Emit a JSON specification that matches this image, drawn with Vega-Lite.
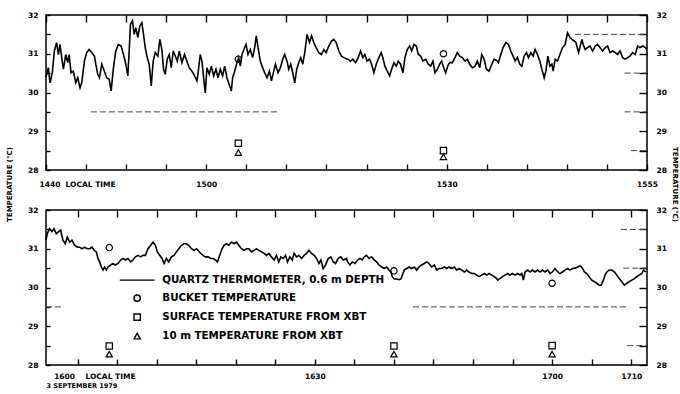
{
"$schema": "https://vega.github.io/schema/vega-lite/v6.json",
"padding": {"left": 4, "top": 10, "right": 0, "bottom": 0},
"bounds": "flush",
"spacing": 40,
"background": "white",
"config": {
 "font": "DejaVu Sans",
 "view": {"stroke": "black", "strokeWidth": 1.5},
 "axis": {"domain": false, "ticks": true, "tickColor": "black", "tickOpacity": 1, "tickWidth": 1.4, "zindex": 1, "labelFont": "DejaVu Sans", "labelFontWeight": "bold", "labelFontSize": 7.5, "labelColor": "black", "grid": false, "titleFont": "DejaVu Sans", "titleFontWeight": "bold", "titleFontSize": 7, "titleColor": "black", "labelOverlap": false, "labelFlush": false, "labelAngle": 0}
},
"resolve": {"scale": {"shape": "independent"}, "legend": {"shape": "independent"}},
"datasets": {
 "top": [{"t":40,"v":30.4},{"t":40.08,"v":30.47},{"t":40.29,"v":30.64},{"t":40.5,"v":30.25},{"t":40.79,"v":30.51},{"t":41.04,"v":31.07},{"t":41.33,"v":31.29},{"t":41.54,"v":30.98},{"t":41.75,"v":31.24},{"t":41.96,"v":30.9},{"t":42.17,"v":30.6},{"t":42.46,"v":30.98},{"t":42.71,"v":30.77},{"t":42.88,"v":30.98},{"t":43.13,"v":30.51},{"t":43.42,"v":30.55},{"t":43.71,"v":30.25},{"t":43.96,"v":30.38},{"t":44.25,"v":30.12},{"t":44.46,"v":30.25},{"t":44.79,"v":30.81},{"t":45.08,"v":31.03},{"t":45.38,"v":31.11},{"t":45.71,"v":31.03},{"t":46.04,"v":30.94},{"t":46.21,"v":30.73},{"t":46.46,"v":30.47},{"t":46.67,"v":30.38},{"t":46.96,"v":30.73},{"t":47.29,"v":30.55},{"t":47.58,"v":30.38},{"t":47.88,"v":30.34},{"t":48.13,"v":30.04},{"t":48.42,"v":30.64},{"t":48.71,"v":31.07},{"t":49.04,"v":31.24},{"t":49.38,"v":31.2},{"t":49.67,"v":30.98},{"t":49.96,"v":30.73},{"t":50.21,"v":30.43},{"t":50.38,"v":31.07},{"t":50.54,"v":31.76},{"t":50.79,"v":31.85},{"t":51,"v":31.5},{"t":51.21,"v":31.67},{"t":51.46,"v":31.42},{"t":51.71,"v":31.72},{"t":51.96,"v":31.8},{"t":52.17,"v":31.5},{"t":52.38,"v":31.16},{"t":52.63,"v":30.9},{"t":52.88,"v":30.73},{"t":53.13,"v":30.17},{"t":53.38,"v":30.81},{"t":53.63,"v":31.03},{"t":53.96,"v":30.94},{"t":54.21,"v":31.37},{"t":54.46,"v":31.11},{"t":54.67,"v":30.6},{"t":54.88,"v":30.47},{"t":55.13,"v":30.86},{"t":55.38,"v":30.98},{"t":55.63,"v":30.64},{"t":55.88,"v":31.07},{"t":56.13,"v":30.94},{"t":56.38,"v":30.81},{"t":56.63,"v":31.07},{"t":56.96,"v":30.77},{"t":57.29,"v":30.98},{"t":57.58,"v":30.81},{"t":57.88,"v":30.64},{"t":58.21,"v":30.55},{"t":58.54,"v":30.43},{"t":58.83,"v":30.3},
 {"t":58.96,"v":30.47},{"t":59.25,"v":30.98},{"t":59.46,"v":30.81},{"t":59.67,"v":30.38},{"t":59.88,"v":29.99},{"t":60.08,"v":30.64},{"t":60.38,"v":30.47},{"t":60.63,"v":30.68},{"t":60.92,"v":30.43},{"t":61.21,"v":30.6},{"t":61.46,"v":30.38},{"t":61.75,"v":30.6},{"t":62.04,"v":30.43},{"t":62.29,"v":30.68},{"t":62.58,"v":30.38},{"t":62.79,"v":30.25},{"t":63.13,"v":30.04},{"t":63.29,"v":30.38},{"t":63.54,"v":30.55},{"t":63.83,"v":30.77},{"t":64.04,"v":30.9},{"t":64.25,"v":30.68},{"t":64.46,"v":30.98},{"t":64.79,"v":31.16},{"t":64.96,"v":31.24},{"t":65.21,"v":30.98},{"t":65.5,"v":31.11},{"t":65.79,"v":30.9},{"t":66.04,"v":31.16},{"t":66.25,"v":31.46},{"t":66.46,"v":31.16},{"t":66.75,"v":30.81},{"t":66.96,"v":30.68},{"t":67.29,"v":30.51},{"t":67.58,"v":30.38},{"t":67.88,"v":30.55},{"t":68.13,"v":30.3},{"t":68.42,"v":30.55},{"t":68.63,"v":30.73},{"t":68.96,"v":30.51},{"t":69.25,"v":30.64},{"t":69.54,"v":30.86},{"t":69.79,"v":30.98},{"t":70.08,"v":30.81},{"t":70.29,"v":30.6},{"t":70.54,"v":30.73},{"t":70.79,"v":30.51},{"t":71.04,"v":30.25},{"t":71.29,"v":30.6},{"t":71.54,"v":30.77},{"t":71.79,"v":30.9},{"t":72.04,"v":30.73},{"t":72.29,"v":31.03},{"t":72.58,"v":31.5},{"t":72.88,"v":31.29},{"t":73.13,"v":31.46},{"t":73.42,"v":31.29},{"t":73.71,"v":31.16},{"t":74.04,"v":31.03},{"t":74.38,"v":30.98},{"t":74.67,"v":31.11},{"t":74.96,"v":31.03},{"t":75.29,"v":31.2},{"t":75.63,"v":31.33},{"t":75.92,"v":31.37},{"t":76.21,"v":31.29},{"t":76.54,"v":31.07},{"t":76.88,"v":30.94},{"t":77.17,"v":30.9},{"t":77.58,"v":30.86},
 {"t":77.71,"v":30.86},{"t":78,"v":30.81},{"t":78.29,"v":30.86},{"t":78.63,"v":30.77},{"t":78.96,"v":30.9},{"t":79.25,"v":31.07},{"t":79.54,"v":30.9},{"t":79.79,"v":30.98},{"t":80.08,"v":30.81},{"t":80.38,"v":30.86},{"t":80.63,"v":30.73},{"t":80.92,"v":30.51},{"t":81.21,"v":30.73},{"t":81.54,"v":30.9},{"t":81.83,"v":31.03},{"t":82.04,"v":30.9},{"t":82.29,"v":30.68},{"t":82.58,"v":30.55},{"t":82.88,"v":30.43},{"t":83.13,"v":30.6},{"t":83.42,"v":30.77},{"t":83.71,"v":30.68},{"t":83.96,"v":30.81},{"t":84.25,"v":30.73},{"t":84.54,"v":30.51},{"t":84.79,"v":30.9},{"t":85.08,"v":31.11},{"t":85.38,"v":31.2},{"t":85.63,"v":31.07},{"t":85.92,"v":31.24},{"t":86.21,"v":31.2},{"t":86.46,"v":30.98},{"t":86.75,"v":30.94},{"t":87.04,"v":30.81},{"t":87.38,"v":30.86},{"t":87.71,"v":30.73},{"t":88,"v":30.68},{"t":88.29,"v":30.81},{"t":88.54,"v":30.51},{"t":88.83,"v":30.6},{"t":89.13,"v":30.73},{"t":89.38,"v":30.81},{"t":89.63,"v":30.64},{"t":89.88,"v":30.51},{"t":90.13,"v":30.68},{"t":90.38,"v":30.77},{"t":90.71,"v":30.77},{"t":91.04,"v":30.9},{"t":91.33,"v":31.03},{"t":91.63,"v":30.94},{"t":91.96,"v":30.9},{"t":92.29,"v":30.81},{"t":92.58,"v":30.86},{"t":92.88,"v":30.73},{"t":93.21,"v":30.64},{"t":93.54,"v":30.68},{"t":93.83,"v":30.81},{"t":94.13,"v":30.64},{"t":94.38,"v":30.98},{"t":94.67,"v":30.86},{"t":94.96,"v":30.6},{"t":95.29,"v":30.55},{"t":95.63,"v":30.73},{"t":95.92,"v":30.86},{"t":96.33,"v":30.81},
 {"t":96.46,"v":30.77},{"t":96.75,"v":30.98},{"t":97.04,"v":31.16},{"t":97.38,"v":31.29},{"t":97.71,"v":31.24},{"t":98,"v":31.07},{"t":98.29,"v":30.94},{"t":98.54,"v":30.81},{"t":98.83,"v":30.9},{"t":99.13,"v":30.73},{"t":99.38,"v":30.68},{"t":99.67,"v":30.94},{"t":99.96,"v":31.03},{"t":100.21,"v":30.9},{"t":100.5,"v":31.03},{"t":100.79,"v":30.94},{"t":101.04,"v":31.11},{"t":101.33,"v":30.98},{"t":101.63,"v":30.81},{"t":101.88,"v":30.6},{"t":102.17,"v":30.38},{"t":102.38,"v":30.55},{"t":102.63,"v":30.94},{"t":102.88,"v":30.68},{"t":103.13,"v":30.73},{"t":103.29,"v":30.55},{"t":103.54,"v":30.86},{"t":103.83,"v":30.81},{"t":104.13,"v":30.98},{"t":104.46,"v":31.16},{"t":104.79,"v":31.24},{"t":105.08,"v":31.54},{"t":105.38,"v":31.42},{"t":105.63,"v":31.37},{"t":105.92,"v":31.33},{"t":106.13,"v":31.29},{"t":106.46,"v":31.03},{"t":106.88,"v":31.37},{"t":107.04,"v":31.24},{"t":107.29,"v":31.11},{"t":107.58,"v":31.16},{"t":107.88,"v":31.2},{"t":108.21,"v":31.07},{"t":108.54,"v":31.2},{"t":108.83,"v":31.24},{"t":109.13,"v":31.16},{"t":109.46,"v":31.07},{"t":109.79,"v":31.16},{"t":110.08,"v":31.2},{"t":110.38,"v":31.03},{"t":110.71,"v":31.07},{"t":111.04,"v":31.03},{"t":111.33,"v":30.98},{"t":111.63,"v":31.07},{"t":111.96,"v":30.9},{"t":112.29,"v":30.86},{"t":112.58,"v":30.9},{"t":112.88,"v":30.94},{"t":113.21,"v":31.03},{"t":113.54,"v":30.98},{"t":113.83,"v":31.2},{"t":114.13,"v":31.16},{"t":114.46,"v":31.2},{"t":114.79,"v":31.16},{"t":115,"v":31.11}],
 "bot": [{"t":116,"v":31.22},{"t":116.16,"v":31.39},{"t":116.46,"v":31.52},{"t":116.75,"v":31.44},{"t":117,"v":31.52},{"t":117.3,"v":31.39},{"t":117.6,"v":31.44},{"t":117.85,"v":31.48},{"t":118.14,"v":31.22},{"t":118.44,"v":31.13},{"t":118.69,"v":31.3},{"t":118.99,"v":31.17},{"t":119.28,"v":31.22},{"t":119.62,"v":31.09},{"t":119.96,"v":31.04},{"t":120.25,"v":31.04},{"t":120.55,"v":31},{"t":120.89,"v":31.04},{"t":121.22,"v":31},{"t":121.52,"v":31},{"t":121.81,"v":31.04},{"t":122.07,"v":30.96},{"t":122.36,"v":30.92},{"t":122.57,"v":30.75},{"t":122.79,"v":30.66},{"t":122.99,"v":30.53},{"t":123.21,"v":30.45},{"t":123.42,"v":30.53},{"t":123.63,"v":30.45},{"t":123.84,"v":30.53},{"t":124.18,"v":30.58},{"t":124.47,"v":30.62},{"t":124.77,"v":30.58},{"t":125.11,"v":30.62},{"t":125.44,"v":30.71},{"t":125.74,"v":30.75},{"t":126.03,"v":30.71},{"t":126.37,"v":30.75},{"t":126.71,"v":30.66},{"t":127,"v":30.71},{"t":127.3,"v":30.79},{"t":127.64,"v":30.83},{"t":127.97,"v":30.79},{"t":128.27,"v":30.83},{"t":128.57,"v":30.83},{"t":128.9,"v":31},{"t":129.24,"v":31.09},{"t":129.54,"v":31.17},{"t":129.83,"v":31.09},{"t":130.08,"v":30.92},{"t":130.38,"v":30.83},{"t":130.68,"v":30.75},{"t":130.93,"v":30.62},{"t":131.22,"v":30.75},{"t":131.52,"v":30.66},{"t":131.86,"v":30.79},{"t":132.19,"v":30.83},{"t":132.49,"v":30.92},{"t":132.79,"v":31},{"t":133.12,"v":31.09},{"t":133.46,"v":31.13},{"t":133.76,"v":31.13},{"t":134.05,"v":31.09},{"t":134.39,"v":31},{"t":134.73,"v":30.96},{"t":135.02,"v":31},
 {"t":135.23,"v":30.96},{"t":135.57,"v":30.88},{"t":135.86,"v":30.83},{"t":136.16,"v":30.79},{"t":136.5,"v":30.79},{"t":136.84,"v":30.75},{"t":137.13,"v":30.75},{"t":137.43,"v":30.71},{"t":137.68,"v":30.66},{"t":137.97,"v":30.83},{"t":138.27,"v":31},{"t":138.52,"v":31.09},{"t":138.82,"v":31.13},{"t":139.11,"v":31.09},{"t":139.45,"v":31.17},{"t":139.79,"v":31.13},{"t":140.08,"v":31.17},{"t":140.38,"v":31.09},{"t":140.72,"v":31},{"t":141.05,"v":30.96},{"t":141.35,"v":31},{"t":141.65,"v":31},{"t":141.98,"v":30.92},{"t":142.32,"v":30.96},{"t":142.62,"v":31},{"t":142.91,"v":30.96},{"t":143.25,"v":30.92},{"t":143.59,"v":30.88},{"t":143.88,"v":30.83},{"t":144.18,"v":30.88},{"t":144.51,"v":30.79},{"t":144.85,"v":30.71},{"t":145.15,"v":30.83},{"t":145.44,"v":30.66},{"t":145.7,"v":30.79},{"t":145.99,"v":30.75},{"t":146.29,"v":30.83},{"t":146.54,"v":30.66},{"t":146.84,"v":30.79},{"t":147.13,"v":30.71},{"t":147.38,"v":30.88},{"t":147.68,"v":30.79},{"t":147.97,"v":30.83},{"t":148.31,"v":30.75},{"t":148.65,"v":30.83},{"t":148.94,"v":30.88},{"t":149.24,"v":30.96},{"t":149.58,"v":30.88},{"t":149.92,"v":30.83},{"t":150.21,"v":30.75},{"t":150.51,"v":30.62},{"t":150.76,"v":30.71},{"t":151.05,"v":30.49},{"t":151.35,"v":30.58},{"t":151.69,"v":30.75},{"t":152.02,"v":30.79},{"t":152.32,"v":30.66},{"t":152.62,"v":30.62},{"t":152.95,"v":30.75},{"t":153.29,"v":30.79},{"t":153.59,"v":30.71},{"t":154.01,"v":30.75},
 {"t":154.14,"v":30.66},{"t":154.43,"v":30.58},{"t":154.73,"v":30.66},{"t":155.07,"v":30.62},{"t":155.4,"v":30.71},{"t":155.7,"v":30.75},{"t":155.99,"v":30.71},{"t":156.25,"v":30.79},{"t":156.54,"v":30.83},{"t":156.84,"v":30.75},{"t":157.18,"v":30.79},{"t":157.51,"v":30.71},{"t":157.81,"v":30.66},{"t":158.1,"v":30.58},{"t":158.44,"v":30.53},{"t":158.78,"v":30.49},{"t":159.07,"v":30.53},{"t":159.37,"v":30.45},{"t":159.62,"v":30.4},{"t":159.79,"v":30.28},{"t":160.04,"v":30.22},{"t":160.34,"v":30.22},{"t":160.64,"v":30.2},{"t":160.89,"v":30.22},{"t":161.06,"v":30.32},{"t":161.31,"v":30.45},{"t":161.61,"v":30.49},{"t":161.91,"v":30.53},{"t":162.24,"v":30.49},{"t":162.58,"v":30.53},{"t":162.87,"v":30.45},{"t":163.17,"v":30.53},{"t":163.5,"v":30.58},{"t":163.84,"v":30.62},{"t":164.14,"v":30.66},{"t":164.43,"v":30.62},{"t":164.77,"v":30.53},{"t":165.11,"v":30.58},{"t":165.4,"v":30.45},{"t":165.7,"v":30.49},{"t":166.04,"v":30.49},{"t":166.37,"v":30.53},{"t":166.67,"v":30.49},{"t":166.96,"v":30.53},{"t":167.3,"v":30.49},{"t":167.64,"v":30.53},{"t":167.93,"v":30.45},{"t":168.23,"v":30.49},{"t":168.57,"v":30.45},{"t":168.91,"v":30.4},{"t":169.2,"v":30.45},{"t":169.5,"v":30.4},{"t":169.83,"v":30.36},{"t":170.17,"v":30.36},{"t":170.47,"v":30.32},{"t":170.76,"v":30.28},{"t":171.1,"v":30.32},{"t":171.44,"v":30.36},{"t":171.73,"v":30.32},{"t":172.03,"v":30.36},{"t":172.37,"v":30.32},{"t":172.7,"v":30.28},{"t":173,"v":30.23},
 {"t":173.12,"v":30.19},{"t":173.41,"v":30.23},{"t":173.71,"v":30.28},{"t":174.05,"v":30.32},{"t":174.38,"v":30.36},{"t":174.68,"v":30.32},{"t":174.97,"v":30.36},{"t":175.31,"v":30.32},{"t":175.65,"v":30.36},{"t":175.94,"v":30.32},{"t":176.16,"v":30.36},{"t":176.37,"v":30.19},{"t":176.58,"v":30.4},{"t":176.92,"v":30.45},{"t":177.21,"v":30.4},{"t":177.51,"v":30.45},{"t":177.84,"v":30.4},{"t":178.18,"v":30.45},{"t":178.48,"v":30.4},{"t":178.77,"v":30.45},{"t":179.11,"v":30.4},{"t":179.45,"v":30.45},{"t":179.74,"v":30.36},{"t":180.04,"v":30.4},{"t":180.37,"v":30.49},{"t":180.71,"v":30.4},{"t":181.01,"v":30.36},{"t":181.3,"v":30.4},{"t":181.64,"v":30.45},{"t":181.98,"v":30.49},{"t":182.27,"v":30.45},{"t":182.57,"v":30.49},{"t":182.91,"v":30.5},{"t":183.24,"v":30.53},{"t":183.54,"v":30.56},{"t":183.84,"v":30.5},{"t":184.09,"v":30.4},{"t":184.38,"v":30.36},{"t":184.68,"v":30.28},{"t":185.02,"v":30.19},{"t":185.35,"v":30.15},{"t":185.65,"v":30.11},{"t":185.94,"v":30.06},{"t":186.2,"v":30.06},{"t":186.49,"v":30.19},{"t":186.7,"v":30.32},{"t":186.92,"v":30.4},{"t":187.21,"v":30.45},{"t":187.55,"v":30.45},{"t":187.89,"v":30.4},{"t":188.18,"v":30.32},{"t":188.48,"v":30.23},{"t":188.81,"v":30.15},{"t":189.15,"v":30.06},{"t":189.45,"v":30.11},{"t":189.74,"v":30.15},{"t":190.08,"v":30.19},{"t":190.42,"v":30.23},{"t":190.71,"v":30.28},{"t":191.01,"v":30.32},{"t":191.35,"v":30.36},{"t":191.56,"v":30.45},{"t":191.85,"v":30.4}],
 "mk1": [{"t":64,"v":30.86,"s":"BUCKET TEMPERATURE"},{"t":64,"v":28.69,"s":"SURFACE TEMPERATURE FROM XBT"},{"t":64,"v":28.45,"s":"10 m TEMPERATURE FROM XBT"},{"t":89.6,"v":31.0,"s":"BUCKET TEMPERATURE"},{"t":89.6,"v":28.5,"s":"SURFACE TEMPERATURE FROM XBT"},{"t":89.6,"v":28.34,"s":"10 m TEMPERATURE FROM XBT"}],
 "mk2": [{"t":124,"v":31.03,"s":"BUCKET TEMPERATURE"},{"t":124,"v":28.49,"s":"SURFACE TEMPERATURE FROM XBT"},{"t":124,"v":28.28,"s":"10 m TEMPERATURE FROM XBT"},{"t":160,"v":30.43,"s":"BUCKET TEMPERATURE"},{"t":160,"v":28.49,"s":"SURFACE TEMPERATURE FROM XBT"},{"t":160,"v":28.28,"s":"10 m TEMPERATURE FROM XBT"},{"t":180,"v":30.11,"s":"BUCKET TEMPERATURE"},{"t":180,"v":28.5,"s":"SURFACE TEMPERATURE FROM XBT"},{"t":180,"v":28.28,"s":"10 m TEMPERATURE FROM XBT"}],
 "g1": [{"t1":45.6,"t2":69,"v":29.5},{"t1":112.2,"t2":115,"v":29.5},{"t1":106,"t2":115,"v":31.5},{"t1":112.2,"t2":115,"v":30.5},{"t1":113,"t2":115,"v":28.5}],
 "g2": [{"t1":116,"t2":118,"v":29.5},{"t1":162.4,"t2":189.4,"v":29.5},{"t1":188.7,"t2":192,"v":31.5},{"t1":189,"t2":192,"v":30.5},{"t1":189.5,"t2":192,"v":28.5}]
},
"vconcat": [
 {
  "width": 601, "height": 155,
  "layer": [
   {"data": {"name": "g1"}, "mark": {"type": "rule", "strokeDash": [6, 3], "strokeWidth": 1, "color": "#444"},
    "encoding": {"x": {"field": "t1", "type": "quantitative", "scale": {"domain": [40, 115], "nice": false}, "axis": null}, "x2": {"field": "t2"}, "y": {"field": "v", "type": "quantitative", "scale": {"domain": [28, 32], "nice": false}, "axis": null}}},
   {"data": {"name": "top"}, "mark": {"type": "line", "color": "black", "strokeWidth": 1.6},
    "encoding": {
     "x": {"field": "t", "type": "quantitative", "scale": {"domain": [40, 115], "nice": false},
      "axis": {"orient": "bottom", "values": [40,45,50,55,60,65,70,75,80,85,90,95,100,105,110,115], "ticks": true, "offset": -6, "tickSize": 6, "labelPadding": 10, "title": null,
       "labelExpr": "datum.value == 40 ? '1440\u00a0\u00a0LOCAL TIME' : datum.value == 60 ? '1500' : datum.value == 90 ? '1530' : datum.value == 115 ? '1555' : ''",
       "labelAlign": {"condition": {"test": "datum.value == 40", "value": "left"}, "value": "center"},
       "labelOffset": {"condition": {"test": "datum.value == 40", "value": -7}, "value": 0}}},
     "y": {"field": "v", "type": "quantitative", "scale": {"domain": [28, 32], "nice": false},
      "axis": {"orient": "left", "values": [28,28.5,29,29.5,30,30.5,31,31.5,32], "ticks": true, "offset": -4, "tickSize": 4, "labelPadding": 8,
       "labelExpr": "datum.value % 1 == 0 ? datum.value : ''",
       "title": "TEMPERATURE (°C)", "titleAngle": 270, "titleX": -41, "titleY": 169, "titleAlign": "center", "titleBaseline": "middle"}}
    }},
   {"data": {"name": "mk1"}, "mark": {"type": "point", "filled": false, "color": "black", "size": 40, "strokeWidth": 1.2, "opacity": 1},
    "encoding": {
     "x": {"field": "t", "type": "quantitative", "scale": {"domain": [40, 115], "nice": false},
      "axis": {"orient": "top", "values": [40,45,50,55,60,65,70,75,80,85,90,95,100,105,110,115], "ticks": true, "offset": -7, "tickSize": 7, "labels": false, "title": null}},
     "y": {"field": "v", "type": "quantitative", "scale": {"domain": [28, 32], "nice": false},
      "axis": {"orient": "right", "values": [28,28.5,29,29.5,30,30.5,31,31.5,32], "ticks": true, "offset": -8, "tickSize": 8, "labelPadding": 9,
       "labelExpr": "datum.value % 1 == 0 ? datum.value : ''",
       "title": "TEMPERATURE (°C)", "titleAngle": 90, "titleX": 35, "titleY": 169, "titleAlign": "center", "titleBaseline": "middle"}},
     "shape": {"field": "s", "type": "nominal",
      "scale": {"domain": ["QUARTZ THERMOMETER, 0.6 m DEPTH", "BUCKET TEMPERATURE", "SURFACE TEMPERATURE FROM XBT", "10 m TEMPERATURE FROM XBT"], "range": ["M-5.5,0H5.5", "circle", "square", "triangle-up"]},
      "legend": null}
    }}
  ],
  "resolve": {"axis": {"x": "independent", "y": "independent"}}
 },
 {
  "width": 601, "height": 155,
  "layer": [
   {"data": {"name": "g2"}, "mark": {"type": "rule", "strokeDash": [6, 3], "strokeWidth": 1, "color": "#444"},
    "encoding": {"x": {"field": "t1", "type": "quantitative", "scale": {"domain": [116, 192], "nice": false}, "axis": null}, "x2": {"field": "t2"}, "y": {"field": "v", "type": "quantitative", "scale": {"domain": [28, 32], "nice": false}, "axis": null}}},
   {"data": {"name": "bot"}, "mark": {"type": "line", "color": "black", "strokeWidth": 1.6},
    "encoding": {
     "x": {"field": "t", "type": "quantitative", "scale": {"domain": [116, 192], "nice": false},
      "axis": {"orient": "bottom", "values": [120,125,130,135,140,145,150,155,160,165,170,175,180,185,190], "ticks": true, "offset": -6, "tickSize": 6, "labelPadding": 7,
       "labelExpr": "datum.value == 120 ? '1600\u00a0\u00a0\u00a0\u00a0LOCAL TIME' : datum.value == 150 ? '1630' : datum.value == 180 ? '1700' : datum.value == 190 ? '1710' : ''",
       "labelAlign": {"condition": {"test": "datum.value == 120", "value": "left"}, "value": "center"},
       "labelOffset": {"condition": {"test": "datum.value == 120", "value": -24}, "value": 0},
       "title": "3 SEPTEMBER 1979", "titleFontSize": 6.5, "titleX": 0, "titleY": 29, "titleAlign": "left", "titleBaseline": "bottom"}},
     "y": {"field": "v", "type": "quantitative", "scale": {"domain": [28, 32], "nice": false},
      "axis": {"orient": "left", "values": [28,28.5,29,29.5,30,30.5,31,31.5,32], "ticks": true, "offset": -4, "tickSize": 4, "labelPadding": 8,
       "labelExpr": "datum.value % 1 == 0 ? datum.value : ''", "title": null}}
    }},
   {"data": {"name": "mk2"}, "mark": {"type": "point", "filled": false, "color": "black", "size": 40, "strokeWidth": 1.2, "opacity": 1},
    "encoding": {
     "x": {"field": "t", "type": "quantitative", "scale": {"domain": [116, 192], "nice": false},
      "axis": {"orient": "top", "values": [120,125,130,135,140,145,150,155,160,165,170,175,180,185,190], "ticks": true, "offset": -7, "tickSize": 7, "labels": false, "title": null}},
     "y": {"field": "v", "type": "quantitative", "scale": {"domain": [28, 32], "nice": false},
      "axis": {"orient": "right", "values": [28,28.5,29,29.5,30,30.5,31,31.5,32], "ticks": true, "offset": -8, "tickSize": 8, "labelPadding": 9,
       "labelExpr": "datum.value % 1 == 0 ? datum.value : ''", "title": null}},
     "shape": {"field": "s", "type": "nominal",
      "scale": {"domain": ["QUARTZ THERMOMETER, 0.6 m DEPTH", "BUCKET TEMPERATURE", "SURFACE TEMPERATURE FROM XBT", "10 m TEMPERATURE FROM XBT"], "range": ["M-5.5,0H5.5", "circle", "square", "triangle-up"]},
      "legend": {"orient": "none", "legendX": 86, "legendY": 65, "title": null, "padding": 0, "symbolStrokeColor": "black", "symbolFillColor": "transparent", "symbolStrokeWidth": 1.4, "symbolSize": 40, "labelFont": "DejaVu Sans", "labelFontWeight": "bold", "labelFontSize": 10.3, "labelColor": "black", "labelOffset": 20, "rowPadding": 6, "labelLimit": 400}}
    }}
  ],
  "resolve": {"axis": {"x": "independent", "y": "independent"}}
 }
]
}
